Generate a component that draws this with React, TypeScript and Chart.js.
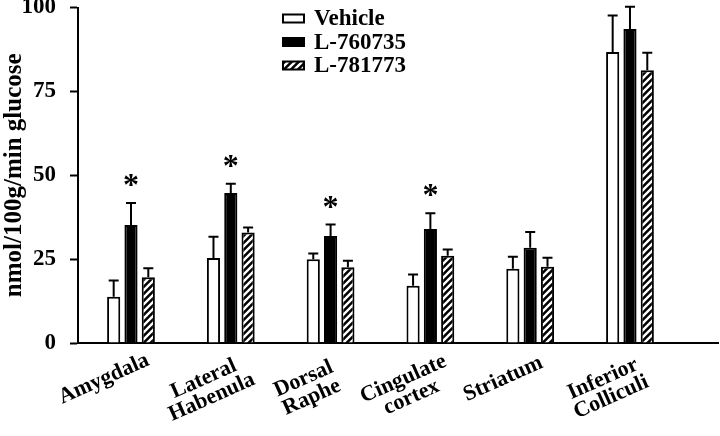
import React, { useEffect, useRef } from "react";
import { Chart, registerables } from "chart.js";
Chart.register(...registerables);

const categories: string[][] = [
  ["Amygdala"],
  ["Lateral", "Habenula"],
  ["Dorsal", "Raphe"],
  ["Cingulate", "cortex"],
  ["Striatum"],
  ["Inferior", "Colliculi"],
];
const seriesNames = ["Vehicle", "L-760735", "L-781773"];
const vehicle = [13.8, 25.3, 25.0, 17.1, 22.1, 86.7];
const vehicleErr = [4.8, 6.4, 1.7, 3.3, 3.6, 10.9];
const l760735 = [35.2, 44.7, 31.9, 34.0, 28.4, 93.6];
const l760735Err = [6.5, 2.8, 3.4, 4.7, 4.7, 6.6];
const l781773 = [19.6, 32.9, 22.6, 26.0, 22.7, 81.3];
const l781773Err = [2.7, 1.5, 1.9, 1.9, 2.7, 5.2];
const significant = [true, true, true, true, false, false];
const yTicks = [0, 25, 50, 75, 100];
const yTitle = "nmol/100g/min glucose";

const SERIF = "'Liberation Serif', 'Times New Roman', serif";

function makeHatch(): CanvasPattern | string {
  const c = document.createElement("canvas");
  const s = 7;
  c.width = s;
  c.height = s;
  const g = c.getContext("2d");
  if (!g) return "#000";
  g.fillStyle = "#000";
  g.fillRect(0, 0, s, s);
  g.strokeStyle = "#fff";
  g.lineWidth = 2.4;
  g.beginPath();
  g.moveTo(-1, 1);
  g.lineTo(1, -1);
  g.moveTo(0, s);
  g.lineTo(s, 0);
  g.moveTo(s - 1, s + 1);
  g.lineTo(s + 1, s - 1);
  g.stroke();
  const p = g.createPattern(c, "repeat");
  return p || "#000";
}

export default function App() {
  const ref = useRef<HTMLCanvasElement | null>(null);
  useEffect(() => {
    document.body.style.margin = "0";
    const canvas = ref.current;
    if (!canvas) return;
    const hatch = makeHatch();
    const errs = [vehicleErr, l760735Err, l781773Err];

    const errorBars = {
      id: "errorBars",
      afterDatasetsDraw(chart: any) {
        const ctx = chart.ctx;
        const yS = chart.scales.y;
        ctx.save();
        ctx.strokeStyle = "#000";
        ctx.lineWidth = 2;
        chart.data.datasets.forEach((ds: any, di: number) => {
          const meta = chart.getDatasetMeta(di);
          meta.data.forEach((el: any, i: number) => {
            const v = ds.data[i].y;
            const top = yS.getPixelForValue(v + errs[di][i]);
            ctx.beginPath();
            ctx.moveTo(el.x, el.y);
            ctx.lineTo(el.x, top);
            ctx.moveTo(el.x - 5, top);
            ctx.lineTo(el.x + 5, top);
            ctx.stroke();
            if (di === 1 && significant[i]) {
              ctx.fillStyle = "#000";
              ctx.font = `bold 32px ${SERIF}`;
              ctx.textAlign = "center";
              ctx.textBaseline = "middle";
              ctx.fillText("*", el.x, top - 16);
            }
          });
        });
        ctx.restore();
      },
    };

    const catLabels = {
      id: "catLabels",
      afterDraw(chart: any) {
        const ctx = chart.ctx;
        const xS = chart.scales.x;
        const base = chart.chartArea.bottom;
        ctx.save();
        ctx.fillStyle = "#000";
        ctx.font = `bold 22px ${SERIF}`;
        ctx.textAlign = "center";
        ctx.textBaseline = "middle";
        categories.forEach((lines, i) => {
          const x = xS.getPixelForValue(i);
          ctx.save();
          ctx.translate(x - 27, base + 36);
          ctx.rotate((-24 * Math.PI) / 180);
          const lh = 20;
          lines.forEach((t, k) => ctx.fillText(t, 0, k * lh));
          ctx.restore();
        });
        ctx.restore();
      },
    };

    const legendBox = {
      id: "legendBox",
      afterDraw(chart: any) {
        const ctx = chart.ctx;
        const a = chart.chartArea;
        ctx.save();
        chart.data.datasets.forEach((ds: any, di: number) => {
          const cy = a.top + 11 + di * 23.5;
          const bx = a.left + 205;
          ctx.fillStyle = ds.backgroundColor;
          ctx.fillRect(bx, cy - 4, 21, 8);
          ctx.strokeStyle = "#000";
          ctx.lineWidth = 2;
          ctx.strokeRect(bx, cy - 4, 21, 8);
          ctx.fillStyle = "#000";
          ctx.font = `bold 23px ${SERIF}`;
          ctx.textAlign = "left";
          ctx.textBaseline = "middle";
          ctx.fillText(ds.label, bx + 31, cy + 1);
        });
        ctx.restore();
      },
    };

    const values = [vehicle, l760735, l781773];
    const fills: any[] = ["#ffffff", "#000000", hatch];
    const chart = new Chart(canvas, {
      type: "bar",
      data: {
        datasets: seriesNames.map((name, di) => ({
          label: name,
          data: values[di].map((v, i) => ({ x: i, y: v })),
          backgroundColor: fills[di],
          borderColor: "#000",
          borderWidth: 2,
          categoryPercentage: 0.59,
          barPercentage: 0.76,
        })),
      },
      options: {
        animation: false,
        responsive: false,
        layout: { padding: { top: 0, right: 2, left: 0, bottom: 0 } },
        plugins: { legend: { display: false }, tooltip: { enabled: false } },
        scales: {
          x: {
            type: "linear",
            offset: false,
            min: -0.531,
            max: 5.882,
            grid: { display: false },
            border: { display: true, color: "#000", width: 2 },
            ticks: { display: false },
            afterFit: (s: any) => {
              s.height = 93;
            },
          },
          y: {
            min: 0,
            max: 100,
            afterBuildTicks: (s: any) => {
              s.ticks = yTicks.map((v) => ({ value: v }));
            },
            grid: {
              drawOnChartArea: false,
              drawTicks: true,
              tickLength: 8,
              tickColor: "#000",
              tickWidth: 2,
            },
            border: { display: true, color: "#000", width: 2 },
            ticks: {
              color: "#000",
              padding: 14,
              font: { family: SERIF, weight: "bold", size: 23 },
            },
            title: {
              display: true,
              text: yTitle,
              color: "#000",
              padding: { top: 0, bottom: 0 },
              font: { family: SERIF, weight: "bold", size: 25 },
            },
            afterFit: (s: any) => {
              s.width = 78;
              s.paddingTop = 7.5;
              s.paddingBottom = 0;
            },
          },
        },
      } as any,
      plugins: [errorBars, catLabels, legendBox],
    });
    return () => chart.destroy();
  }, []);
  return (
    <div style={{ width: 720, height: 436, background: "#fff" }}>
      <canvas ref={ref} width={720} height={436} />
    </div>
  );
}
